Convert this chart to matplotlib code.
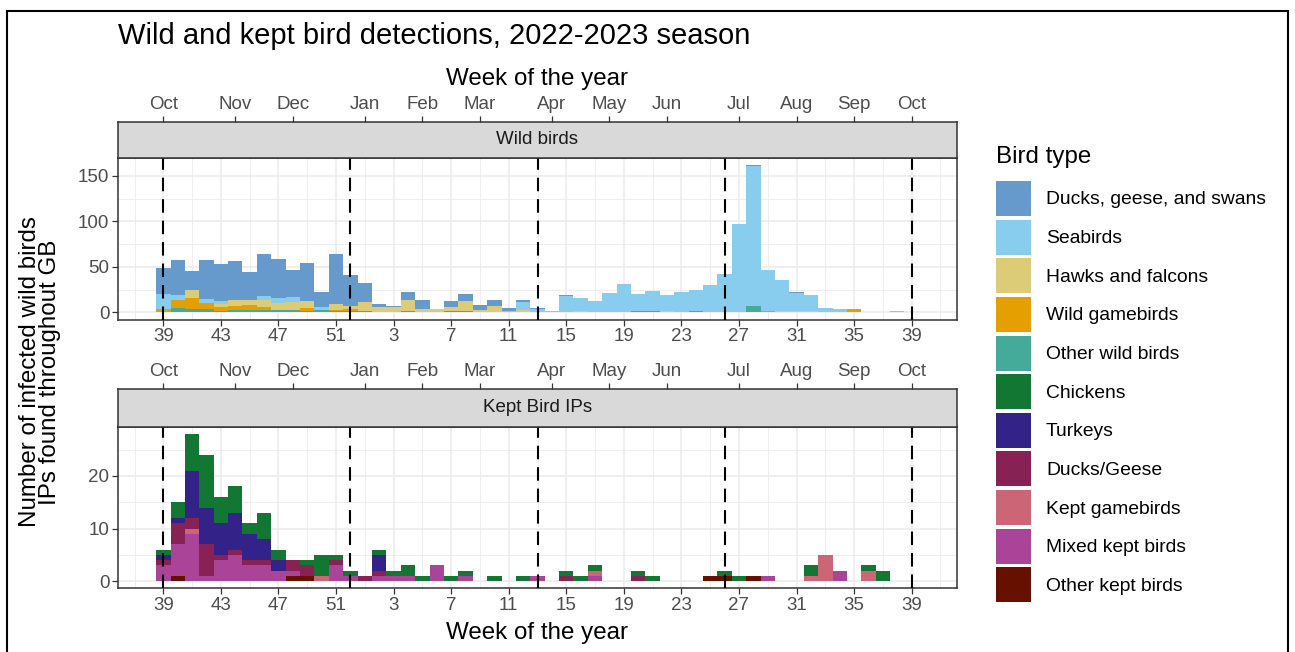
import numpy as np
import matplotlib
matplotlib.use("Agg")
from matplotlib import pyplot as plt
from matplotlib.patches import Patch, Rectangle

plt.rcParams['font.family'] = ['Liberation Sans', 'DejaVu Sans']

# week slot 0 = week 39 of 2022 ... slot 51 = week 38 of 2023
wild_ducks = [29, 38, 21, 43, 41, 42, 30, 46, 43, 29, 42, 16, 55, 34, 21, 3, 1, 8, 10, 0,
              6, 8, 5, 7, 3, 2, 1, 0, 1, 0, 0, 0, 0, 0, 0, 0, 0, 0, 0, 0,
              0, 1, 0, 0, 1, 0, 0, 0, 0, 0, 0, 0]
wild_seabirds = [16, 6, 0, 5, 3, 0, 0, 5, 6, 6, 0, 3, 0, 0, 0, 0, 0, 0, 0, 0,
                 0, 0, 0, 0, 2, 8, 4, 2, 18, 14, 12, 21, 31, 18, 21, 18, 22, 23, 30, 42,
                 97, 154, 44, 33, 20, 18, 5, 4, 0, 0, 0, 1]
wild_hawks = [0, 0, 8, 0, 3, 7, 6, 7, 7, 8, 7, 0, 6, 3, 9, 6, 6, 12, 4, 4,
              4, 10, 3, 7, 0, 3, 0, 0, 0, 2, 0, 0, 0, 1, 0, 1, 0, 0, 0, 0,
              0, 0, 1, 2, 1, 1, 0, 0, 0, 0, 0, 0]
wild_gamebirds = [4, 8, 12, 6, 4, 4, 5, 3, 0, 0, 3, 0, 2, 3, 0, 0, 0, 0, 0, 0,
                  0, 0, 0, 0, 0, 0, 0, 0, 0, 0, 0, 0, 0, 0, 0, 0, 0, 0, 0, 0,
                  0, 0, 1, 0, 0, 0, 0, 0, 4, 0, 0, 0]
wild_other = [0, 5, 4, 4, 2, 3, 3, 3, 3, 3, 2, 3, 1, 1, 2, 0, 0, 2, 0, 0,
              2, 2, 0, 0, 0, 0, 0, 0, 0, 0, 0, 0, 0, 1, 2, 0, 0, 1, 0, 0,
              0, 7, 0, 0, 0, 0, 0, 0, 0, 0, 0, 0]

kept_chickens = [1, 3, 7, 10, 5, 5, 2, 5, 2, 0, 1, 4, 1, 1, 0, 1, 1, 2, 1, 0,
                 1, 1, 0, 1, 0, 1, 0, 0, 1, 1, 1, 0, 0, 1, 1, 0, 0, 0, 0, 1,
                 1, 0, 0, 0, 0, 2, 0, 0, 0, 1, 2, 0]
kept_turkeys = [1, 1, 9, 7, 6, 7, 5, 4, 2, 0, 0, 0, 0, 0, 0, 3, 0, 0, 0, 0,
                0, 0, 0, 0, 0, 0, 0, 0, 0, 0, 0, 0, 0, 0, 0, 0, 0, 0, 0, 0,
                0, 0, 0, 0, 0, 0, 0, 0, 0, 0, 0, 0]
kept_ducks_geese = [1, 4, 2, 6, 1, 1, 1, 1, 0, 2, 2, 0, 1, 0, 1, 1, 0, 0, 0, 0,
                    0, 0, 0, 0, 0, 0, 0, 0, 1, 0, 0, 0, 0, 1, 0, 0, 0, 0, 0, 0,
                    0, 0, 0, 0, 0, 0, 0, 0, 0, 0, 0, 0]
kept_gamebirds = [0, 0, 1, 0, 0, 0, 0, 0, 0, 0, 0, 1, 0, 0, 0, 0, 0, 0, 0, 0,
                  0, 0, 0, 0, 0, 0, 0, 0, 0, 0, 1, 0, 0, 0, 0, 0, 0, 0, 0, 0,
                  0, 0, 0, 0, 0, 1, 5, 0, 0, 2, 0, 0]
kept_mixed = [3, 6, 9, 1, 4, 5, 3, 3, 2, 1, 0, 0, 3, 1, 0, 1, 1, 1, 0, 3,
              0, 1, 0, 0, 0, 0, 1, 0, 0, 0, 1, 0, 0, 0, 0, 0, 0, 0, 0, 0,
              0, 0, 1, 0, 0, 0, 0, 2, 0, 0, 0, 0]
kept_other = [0, 1, 0, 0, 0, 0, 0, 0, 0, 1, 1, 0, 0, 0, 0, 0, 0, 0, 0, 0,
              0, 0, 0, 0, 0, 0, 0, 0, 0, 0, 0, 0, 0, 0, 0, 0, 0, 0, 1, 1,
              0, 1, 0, 0, 0, 0, 0, 0, 0, 0, 0, 0]

wild_labels = ["Ducks, geese, and swans", "Seabirds", "Hawks and falcons",
               "Wild gamebirds", "Other wild birds"]
kept_labels = ["Chickens", "Turkeys", "Ducks/Geese", "Kept gamebirds",
               "Mixed kept birds", "Other kept birds"]
wild_colors = ["#6699CC", "#88CCEE", "#DDCC77", "#E69F00", "#44AA99"]
kept_colors = ["#117733", "#332288", "#882255", "#CC6677", "#AA4499", "#661100"]

week_ticks = [0, 4, 8, 12, 16, 20, 24, 28, 32, 36, 40, 44, 48, 52]
week_tick_labels = ["39", "43", "47", "51", "3", "7", "11", "15", "19", "23",
                    "27", "31", "35", "39"]
month_ticks = [0, 5, 9, 14, 18, 22, 27, 31, 35, 40, 44, 48, 52]
month_labels = ["Oct", "Nov", "Dec", "Jan", "Feb", "Mar", "Apr", "May", "Jun",
                "Jul", "Aug", "Sep", "Oct"]
quarter_marks = [0, 13, 26, 39, 52]

W, H = 1295, 652
fig = plt.figure(figsize=(W / 100, H / 100), dpi=100)


def px_box(x0, y0, x1, y1):
    return [x0 / W, 1 - y1 / H, (x1 - x0) / W, (y1 - y0) / H]


XLIM = (-3.15, 55.15)
TXT = '#4D4D4D'
EDGE = '#333333'


def strip(box, text):
    s = fig.add_axes(box)
    s.set_facecolor('#D9D9D9')
    s.set_xlim(XLIM)
    s.set_ylim(0, 1)
    for sp in s.spines.values():
        sp.set_color(EDGE)
        sp.set_linewidth(1.1)
    s.set_yticks([])
    s.set_xticks(month_ticks)
    s.set_xticklabels(month_labels)
    s.tick_params(axis='x', bottom=False, labelbottom=False, top=True, labeltop=True,
                  colors=EDGE, labelcolor=TXT, labelsize=13.5, length=4.3, width=0.9, pad=2)
    s.text(0.5, 0.5, text, transform=s.transAxes, ha='center', va='center',
           fontsize=13.5, color='#1A1A1A')
    return s


def panel(box, series, colors, yticks, yminor):
    ax = fig.add_axes(box)
    x = np.arange(len(series[0]))
    bottom = np.zeros(len(x))
    # first level sits on top of the stack, so draw from the last one upwards
    for vals, col in zip(series[::-1], colors[::-1]):
        vals = np.array(vals, dtype=float)
        ax.bar(x, vals, width=1.0, bottom=bottom, color=col, linewidth=0, zorder=2)
        bottom += vals
    top = bottom.max()
    ax.set_ylim(-0.05 * top, 1.05 * top)
    ax.set_xlim(XLIM)
    for q in quarter_marks:
        ax.axvline(q, color='black', lw=1.5, ls=(0, (6.5, 3.8)), zorder=3)
    ax.set_xticks(week_ticks)
    ax.set_xticklabels(week_tick_labels)
    ax.set_xticks(np.arange(-2, 55, 4), minor=True)
    ax.set_yticks(yticks)
    ax.set_yticks(yminor, minor=True)
    ax.grid(which='major', color='#EBEBEB', lw=1.1, zorder=0)
    ax.grid(which='minor', color='#EBEBEB', lw=0.6, zorder=0)
    ax.set_axisbelow(True)
    ax.tick_params(which='major', colors=EDGE, labelcolor=TXT, labelsize=13.5,
                   length=4.3, width=0.9, pad=2)
    ax.tick_params(which='minor', length=0)
    for sp in ax.spines.values():
        sp.set_color(EDGE)
        sp.set_linewidth(1.1)
    return ax


ax_w = panel(px_box(118, 157.5, 957, 319.7),
             [wild_ducks, wild_seabirds, wild_hawks, wild_gamebirds, wild_other],
             wild_colors, [0, 50, 100, 150], [25, 75, 125])
strip(px_box(118, 122, 957, 157.5), "Wild birds")

ax_k = panel(px_box(118, 426.6, 957, 588.4),
             [kept_chickens, kept_turkeys, kept_ducks_geese, kept_gamebirds,
              kept_mixed, kept_other],
             kept_colors, [0, 10, 20], [5, 15, 25])
strip(px_box(118, 389, 957, 426.6), "Kept Bird IPs")

fig.text(118 / W, 1 - 36 / H, "Wild and kept bird detections, 2022-2023 season",
         ha='left', va='center', fontsize=21, color='black')
fig.text(537.5 / W, 1 - 79 / H, "Week of the year", ha='center', va='center',
         fontsize=17.4, color='black')
fig.text(537.5 / W, 1 - 633 / H, "Week of the year", ha='center', va='center',
         fontsize=17.4, color='black')
fig.text(40 / W, 1 - 372 / H, "Number of infected wild birds\nIPs found throughout GB",
         rotation=90, ha='center', va='center', fontsize=17.4, linespacing=0.88,
         multialignment='center')

# legend: title as its own text, keys 35 px square
fig.text(996 / W, 1 - 157 / H, "Bird type", ha='left', va='center', fontsize=17.4)
handles = [Patch(facecolor=c, edgecolor='none') for c in wild_colors + kept_colors]
leg = fig.legend(handles, wild_labels + kept_labels, loc='upper left',
                 bbox_to_anchor=(996 / W, 1 - 181 / H), frameon=False,
                 fontsize=13.9, handlelength=1.81, handleheight=2.41,
                 labelspacing=0.19, handletextpad=0.78, borderpad=0,
                 borderaxespad=0)

fig.add_artist(Rectangle((7 / W, -0.05), (1288 - 7) / W, 1.05 - 11 / H,
                         transform=fig.transFigure, fill=False, ec='black', lw=1.5))

fig.savefig('out.png', dpi=100)
